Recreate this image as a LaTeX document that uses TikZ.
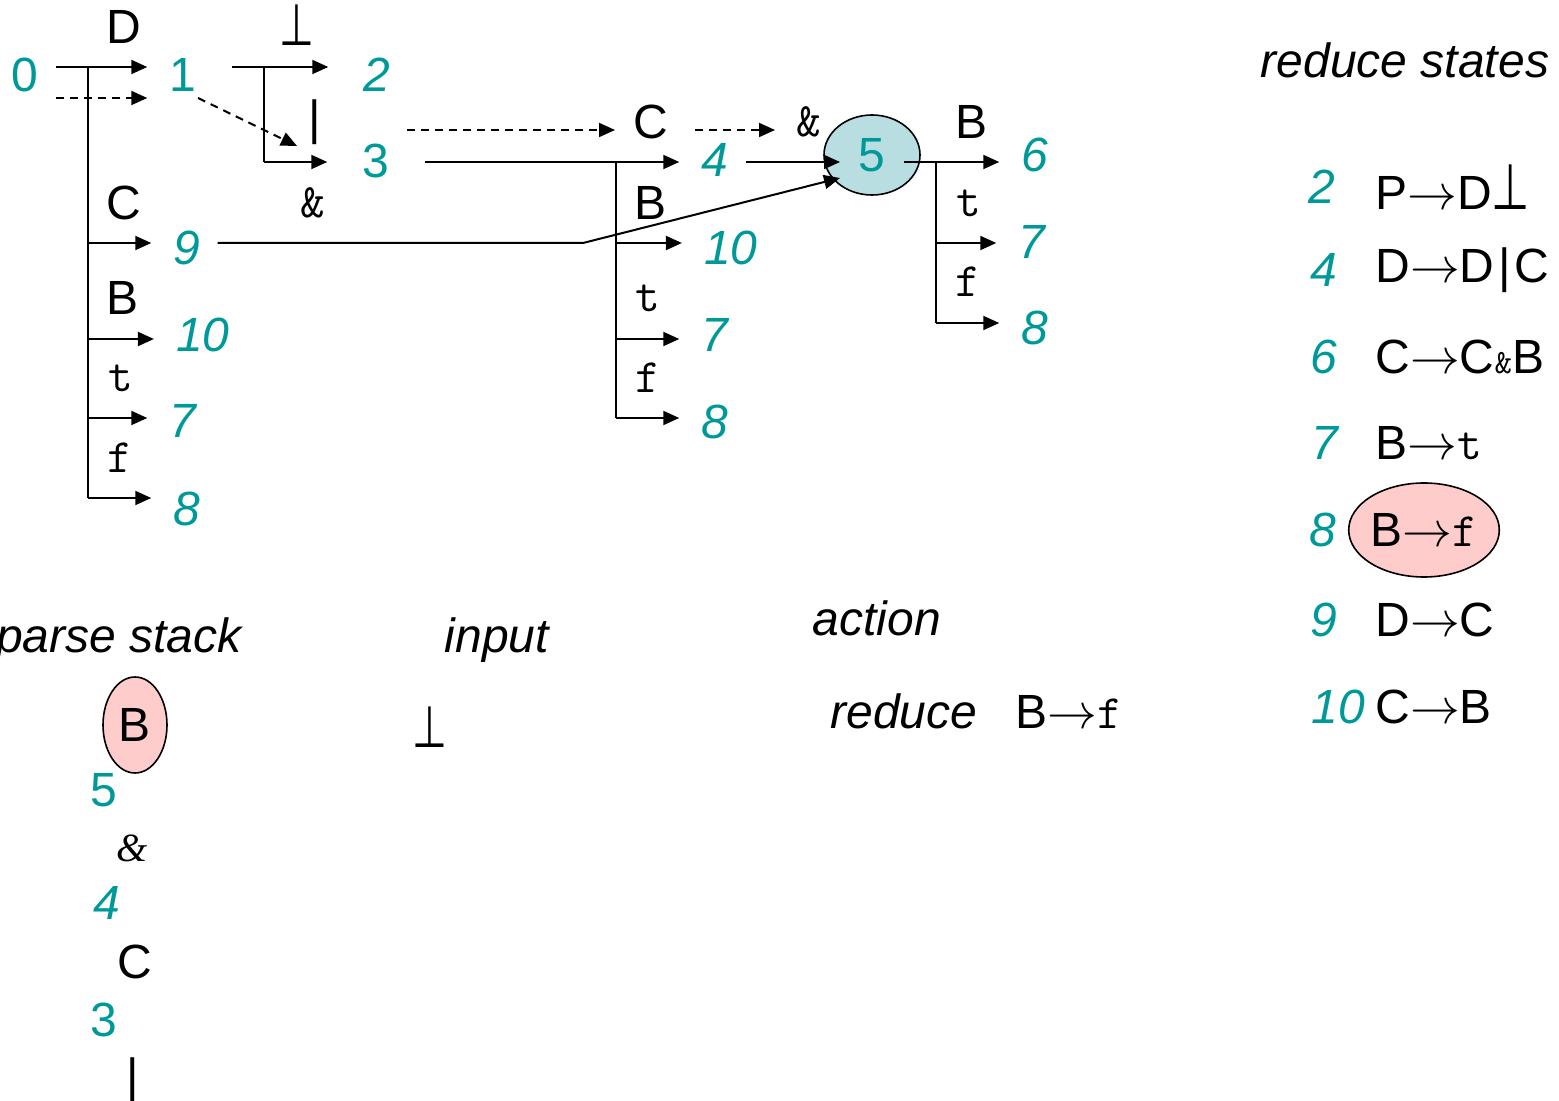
\documentclass[tikz,border=0pt]{standalone}
\usepackage{graphicx}
\usepackage{fontspec}
\setmainfont{Liberation Sans}
\newfontfamily\seriffont{Liberation Serif}
\newfontfamily\symfont{DejaVu Sans}
\usetikzlibrary{arrows.meta,shapes.geometric}
\definecolor{numc}{RGB}{0,153,153}
\definecolor{stblue}{RGB}{185,222,225}
\definecolor{hlpink}{RGB}{255,204,204}
\newcommand{\upbot}{\scalebox{1}[1.45]{⊥}}
\begin{document}
\begin{tikzpicture}[x=0.5pt,y=-0.5pt,
  every node/.style={inner sep=0pt, font=\fontsize{24}{28}\selectfont},
  num/.style={text=numc, inner xsep=11pt},
  inum/.style={text=numc, inner xsep=11pt, font=\fontsize{24}{28}\selectfont\itshape},
  ital/.style={font=\fontsize{24}{28}\selectfont\itshape},
  mono/.style={font=\fontsize{24}{28}\selectfont\ttfamily},
  perpsym/.style={font=\fontsize{20}{22}\selectfont\symfont},
  edge/.style={line width=1pt, -{Triangle[length=8pt,width=7pt]}},
  dedge/.style={edge, dash pattern=on 4pt off 3pt},
  trunk/.style={line width=1pt},
  hl/.style={ellipse, draw=black, line width=0.8pt, fill=hlpink},
]
\useasboundingbox (0,0) rectangle (1559,1101);

% ---------- states ----------
\node[num] (s0) at (25,75) {0};
\node[num] (s1) at (183,75) {1};
\node[inum] (s2) at (377,75) {2};
\node[num] (s3) at (376,161) {3};
\node[inum] (s4) at (715,160) {4};
\node[ellipse, draw=black, line width=0.8pt, fill=stblue, minimum width=48pt, minimum height=40pt, text=numc] (s5) at (872,155) {5};
\node[inum] (s6) at (1035,155) {6};
\node[inum] (s7r) at (1032,242) {7};
\node[inum] (s8r) at (1035,328) {8};
\node[inum] (s9) at (187,248) {9};
\node[inum] (s10l) at (203,335) {10};
\node[inum] (s7l) at (183,421) {7};
\node[inum] (s8l) at (187,509) {8};
\node[inum] (s10m) at (731,248) {10};
\node[inum] (s7m) at (715,335) {7};
\node[inum] (s8m) at (715,422) {8};

% ---------- edge labels ----------
\node (lD) at (124,27) {D};
\node[perpsym] (lbot) at (297,25) {\upbot};
\node (bar) at (315,122) {|};
\node[mono] (lamp1) at (313,203) {\&};
\node (lC0) at (124,203) {C};
\node (lB0) at (123,298) {B};
\node[mono] (lt0) at (121,378) {t};
\node[mono] (lf0) at (120,458) {f};
\node (lC1) at (651,122) {C};
\node (lB1) at (651,203) {B};
\node[mono] (lt1) at (648,298) {t};
\node[mono] (lf1) at (648,378) {f};
\node[mono] (lamp2) at (809,122) {\&};
\node (lB2) at (971,122) {B};
\node[mono] (lt2) at (969,203) {t};
\node[mono] (lf2) at (968,282) {f};

% ---------- junctions ----------
\coordinate (j0) at (88,67);
\coordinate (j0a) at (88,243);
\coordinate (j0b) at (88,339);
\coordinate (j0c) at (88,418);
\coordinate (j0d) at (88,498);
\coordinate (j1) at (264,67);
\coordinate (j1a) at (264,162);
\coordinate (j3) at (616,162);
\coordinate (j3a) at (616,243);
\coordinate (j3b) at (616,339);
\coordinate (j3c) at (616,418);
\coordinate (j5) at (936,162);
\coordinate (j5a) at (936,243);
\coordinate (j5b) at (936,323);
\coordinate (k9) at (583,243);

% ---------- connectors ----------
\draw[edge, shorten <=-2.5pt] (s0.east |- j0) -- (s1.west |- j0);
\draw[trunk] (j0) -- (j0d);
\draw[edge] (j0a) -- (j0a -| s9.west);
\draw[edge] (j0b) -- (j0b -| s10l.west);
\draw[edge] (j0c) -- (j0c -| s7l.west);
\draw[edge] (j0d) -- (j0d -| s8l.west);
\draw[dedge] ([shift={(-5,23)}]s0.east) -- ([shift={(0,23)}]s1.west);
\draw[dedge] ([shift={(15,23)}]s1.center) -- ([shift={(-18,24)}]bar.center);

\draw[edge, shorten <=6.5pt, shorten >=6.5pt] (s1.east |- j1) -- (s2.west |- j1);
\draw[trunk] (j1) -- (j1a);
\draw[edge, shorten >=6.5pt] (j1a) -- (j1a -| s3.west);

\draw[edge, shorten <=6.5pt] (s3.east |- j3) -- (s4.west |- j3);
\draw[trunk] (j3) -- (j3c);
\draw[edge] (j3a) -- (j3a -| s10m.west);
\draw[edge] (j3b) -- (j3b -| s7m.west);
\draw[edge] (j3c) -- (j3c -| s8m.west);
\draw[dedge] ([shift={(31,-31)}]s3.center) -- ([shift={(-36,8)}]lC1.center);
\draw[dedge] ([shift={(44,8)}]lC1.center) -- ([shift={(-34,8)}]lamp2.center);

\draw[edge, shorten <=-2.5pt] (s4.east |- j3) -- ([shift={(-32,7)}]s5.center);
\draw[edge, shorten <=-2.5pt] (s9.east |- k9) -- (k9) -- ([shift={(-32,23)}]s5.center);

\draw[edge, shorten <=16pt] (s5.center |- j5) -- (j5 -| s6.west);
\draw[trunk] (j5) -- (j5b);
\draw[edge] (j5a) -- (j5a -| s7r.west);
\draw[edge] (j5b) -- (j5b -| s8r.west);

% ---------- reduce states ----------
\node[ital] (rs) at (1405,60) {reduce states};
\node[inum] (r2) at (1322,187) {2};
\node[inum] (r4) at (1324,270) {4};
\node[inum] (r6) at (1324,357) {6};
\node[inum] (r7) at (1325,443) {7};
\node[inum] (r8) at (1323,530) {8};
\node[inum] (r9) at (1324,620) {9};
\node[inum] (r10) at (1338,707) {10};
\node[anchor=west] (p2) at (1375,187) {P$\rightarrow$D{\fontsize{22}{24}\selectfont\symfont\upbot}};
\node[anchor=west] (p4) at (1375,270) {D$\rightarrow$D\kern2pt|\kern2pt C};
\node[anchor=west] (p6) at (1375,357) {C$\rightarrow$C{\fontsize{17}{18}\selectfont\ttfamily\&}B};
\node[anchor=west] (p7) at (1375,443) {B$\rightarrow${\ttfamily t}};
\node[hl, minimum width=72pt, minimum height=47pt] (p8) at (1424,530) {B$\rightarrow${\ttfamily f}};
\node[anchor=west] (p9) at (1375,620) {D$\rightarrow$C};
\node[anchor=west] (p10) at (1375,707) {C$\rightarrow$B};

% ---------- parse stack / input / action ----------
\node[ital, anchor=base east] (ps) at (242,652) {parse stack};
\node[ital, anchor=base] (inp) at (497,652) {input};
\node[ital, anchor=base] (act) at (877,635) {action};
\node[ital, anchor=base west] (red) at (830,728) {reduce};
\node[anchor=base west] (redp) at (1015,728) {B$\rightarrow${\ttfamily f}};

\node[hl, minimum width=32pt, minimum height=48pt] (stB) at (135,725) {B};
\node[num] (st5) at (104,790) {5};
\node[font=\fontsize{20}{24}\selectfont\seriffont\itshape] (stamp) at (132,848) {\&};
\node[inum] (st4) at (107,903) {4};
\node (stC) at (135,962) {C};
\node[num] (st3) at (104,1020) {3};
\node (stbar) at (133,1080) {|};
\node[perpsym] (inbot) at (430,727) {\upbot};
\end{tikzpicture}
\end{document}
